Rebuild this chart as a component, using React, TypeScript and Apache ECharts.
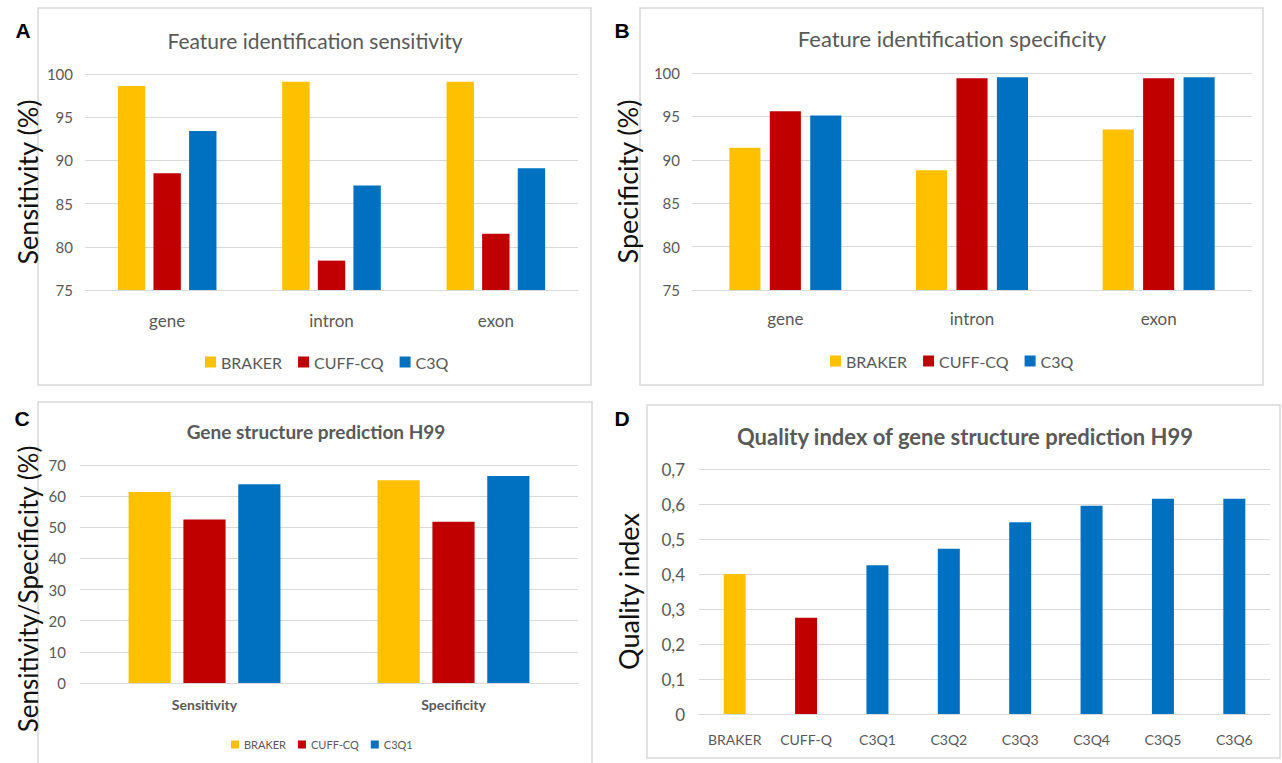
import React, { useEffect, useRef } from "react";
import * as echarts from "echarts";

const featureCats = ["gene", "intron", "exon"];
const sensBraker = [98.6, 99.1, 99.1];
const sensCuff = [88.5, 78.4, 81.5];
const sensC3Q = [93.4, 87.1, 89.1];

const specBraker = [91.4, 88.8, 93.5];
const specCuff = [95.6, 99.4, 99.4];
const specC3Q = [95.1, 99.5, 99.5];

const h99Cats = ["Sensitivity", "Specificity"];
const h99Braker = [61.3, 65.1];
const h99Cuff = [52.5, 51.8];
const h99C3Q1 = [63.8, 66.5];

const qiCats = ["BRAKER", "CUFF-Q", "C3Q1", "C3Q2", "C3Q3", "C3Q4", "C3Q5", "C3Q6"];
const qiValues = [0.4, 0.275, 0.425, 0.472, 0.548, 0.595, 0.615, 0.615];

const YELLOW = "#FFC000";
const RED = "#C00000";
const BLUE = "#0070C0";
const GRAY = "#595959";
const LINE = "#D9D9D9";
const FONT = "Lato, 'Open Sans', sans-serif";

export default function App() {
  const ref = useRef<HTMLDivElement>(null);
  useEffect(() => {
    if (!ref.current) return;
    const chart = echarts.init(ref.current, null, { renderer: "svg" });

    const catAxis = (gridIndex: number, data: string[], fontSize: number, margin: number, bold = false) => ({
      type: "category",
      gridIndex,
      data,
      axisLine: { show: true, lineStyle: { color: LINE, width: 1 } },
      axisTick: { show: false },
      axisLabel: { color: GRAY, fontSize, margin, fontFamily: FONT, fontWeight: bold ? "bold" : "normal" },
    });
    const valAxis = (
      gridIndex: number,
      min: number,
      max: number,
      interval: number,
      name: string,
      nameGap: number,
      nameSize: number,
      namePadRight: number,
      fontSize: number,
      margin: number,
      formatter?: (v: number) => string
    ) => ({
      type: "value",
      gridIndex,
      min,
      max,
      interval,
      name,
      nameLocation: "middle",
      nameRotate: 90,
      nameGap,
      nameTextStyle: {
        color: "#111",
        fontSize: nameSize,
        fontFamily: FONT,
        padding: [0, namePadRight, 0, 0],
      },
      axisLine: { show: false },
      axisTick: { show: false },
      splitLine: { lineStyle: { color: LINE, width: 1 } },
      axisLabel: { color: GRAY, fontSize, margin, fontFamily: FONT, formatter },
    });

    const bar = (name: string, data: number[], color: string, idx: number, gap: string, catGap: string) => ({
      type: "bar",
      name,
      data,
      xAxisIndex: idx,
      yAxisIndex: idx,
      itemStyle: { color },
      barGap: gap,
      barCategoryGap: catGap,
    });

    const boxes = [
      [38, 8, 553, 377],
      [640, 8, 623, 377],
      [38, 402, 554, 370],
      [647, 405, 633, 353],
    ];
    const panelLetters = [
      ["A", 23, 30],
      ["B", 622, 30],
      ["C", 22, 418],
      ["D", 622, 418],
    ];
    const titles = [
      ["Feature identification sensitivity", 315, 40, 21, "normal"],
      ["Feature identification specificity", 952, 38, 22, "normal"],
      ["Gene structure prediction H99", 316, 431, 19, "bold"],
      ["Quality index of gene structure prediction H99", 965, 436, 22, "bold"],
    ];

    const graphic: any[] = [];
    boxes.forEach((b) =>
      graphic.push({
        type: "rect",
        shape: { x: b[0], y: b[1], width: b[2], height: b[3] },
        style: { fill: "#fff", stroke: LINE, lineWidth: 1.5 },
        z: -10,
        silent: true,
      })
    );
    panelLetters.forEach((p) =>
      graphic.push({
        type: "text",
        x: p[1] as number,
        y: p[2] as number,
        style: {
          text: p[0] as string,
          fill: "#000",
          font: "bold 21px Arial, 'Liberation Sans', sans-serif",
          textAlign: "center",
          textVerticalAlign: "middle",
        },
      })
    );
    titles.forEach((t) =>
      graphic.push({
        type: "text",
        x: t[1] as number,
        y: t[2] as number,
        style: {
          text: t[0] as string,
          fill: GRAY,
          font: `${t[4]} ${t[3]}px ${FONT}`,
          textAlign: "center",
          textVerticalAlign: "middle",
        },
      })
    );

    const legendText = (size: number) => ({ color: GRAY, fontSize: size, fontFamily: FONT });

    chart.setOption({
      animation: false,
      backgroundColor: "#fff",
      graphic,
      grid: [
        { left: 85, right: 704, top: 74, height: 216 },
        { left: 692, right: 30, top: 73, height: 217 },
        { left: 80, right: 704, top: 465, height: 218 },
        { left: 699, right: 12, top: 469, height: 245 },
      ],
      xAxis: [
        catAxis(0, featureCats, 17, 22),
        catAxis(1, featureCats, 17, 20),
        catAxis(2, h99Cats, 14, 14, true),
        catAxis(3, qiCats, 14, 18),
      ],
      yAxis: [
        valAxis(0, 75, 100, 5, "Sensitivity (%)", 44, 27, 0, 15, 12),
        valAxis(1, 75, 100, 5, "Specificity (%)", 51, 27, 0, 15, 12),
        valAxis(2, 0, 70, 10, "Sensitivity/Specificity (%)", 39, 26, 30, 15, 14),
        valAxis(3, 0, 0.7, 0.1, "Quality index", 57, 27, 0, 17, 14, (v: number) =>
          v === 0 ? "0" : v.toFixed(1).replace(".", ",")
        ),
      ],
      legend: [
        {
          data: ["BRAKER", "CUFF-CQ", "C3Q"],
          left: 200,
          top: 349,
          itemWidth: 11,
          itemHeight: 11,
          itemGap: 16,
          icon: "rect",
          textStyle: legendText(16),
        },
        {
          data: ["BRAKER", "CUFF-CQ", "C3Q"],
          left: 825,
          top: 348,
          itemWidth: 11,
          itemHeight: 11,
          itemGap: 16,
          icon: "rect",
          textStyle: legendText(16),
        },
        {
          data: ["BRAKER", "CUFF-CQ", "C3Q1"],
          left: 226,
          top: 734,
          itemWidth: 8,
          itemHeight: 8,
          itemGap: 12,
          icon: "rect",
          textStyle: legendText(11),
        },
      ],
      series: [
        bar("BRAKER", sensBraker, YELLOW, 0, "30%", "40%"),
        bar("CUFF-CQ", sensCuff, RED, 0, "30%", "40%"),
        bar("C3Q", sensC3Q, BLUE, 0, "30%", "40%"),
        bar("BRAKER", specBraker, YELLOW, 1, "30%", "40%"),
        bar("CUFF-CQ", specCuff, RED, 1, "30%", "40%"),
        bar("C3Q", specC3Q, BLUE, 1, "30%", "40%"),
        bar("BRAKER", h99Braker, YELLOW, 2, "30%", "39%"),
        bar("CUFF-CQ", h99Cuff, RED, 2, "30%", "39%"),
        bar("C3Q1", h99C3Q1, BLUE, 2, "30%", "39%"),
        {
          type: "bar",
          name: "Quality index",
          xAxisIndex: 3,
          yAxisIndex: 3,
          barWidth: 22,
          data: qiValues.map((v, i) => ({
            value: v,
            itemStyle: { color: i === 0 ? YELLOW : i === 1 ? RED : BLUE },
          })),
        },
      ],
    });
    return () => chart.dispose();
  }, []);
  return (
    <div
      ref={ref}
      style={{ position: "fixed", left: 0, top: 0, width: 1282, height: 763, background: "#fff" }}
    />
  );
}
